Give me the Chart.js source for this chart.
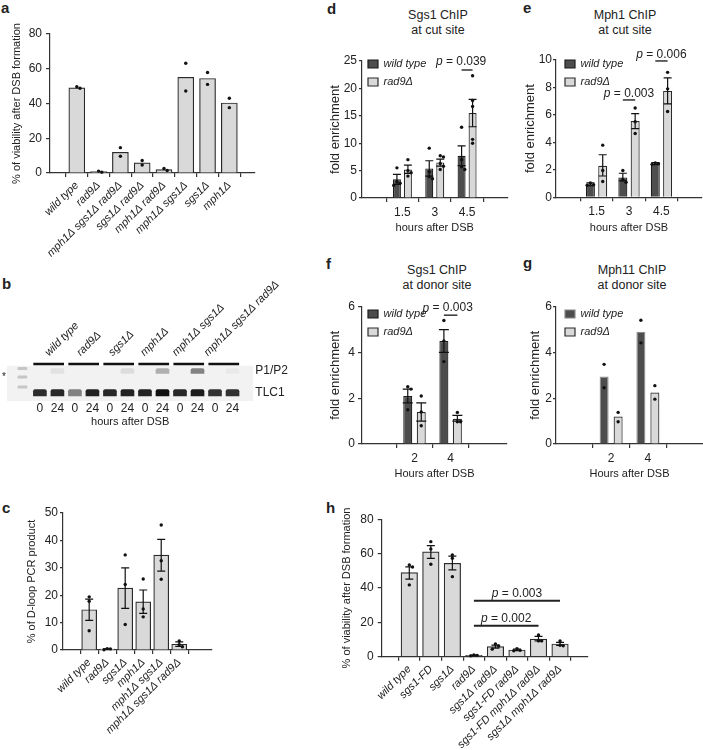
<!DOCTYPE html>
<html><head><meta charset="utf-8">
<script src="https://cdn.jsdelivr.net/npm/chart.js@4.4.1/dist/chart.umd.min.js"></script>
<style>
html,body{margin:0;padding:0;background:#fff;}
body{width:703px;height:750px;position:relative;overflow:hidden;font-family:'Liberation Sans',Arial,Helvetica,sans-serif;color:#222;}
canvas{position:absolute;}
.lt{position:absolute;font-weight:bold;font-size:15px;line-height:15px;}
.ttl{position:absolute;font-size:12.5px;line-height:15px;text-align:center;width:160px;white-space:nowrap;}
</style></head><body>
<div class="lt" style="left:1px;top:0px">a</div>
<div class="lt" style="left:2px;top:276px">b</div>
<div class="lt" style="left:2px;top:500px">c</div>
<div class="lt" style="left:327px;top:1px">d</div>
<div class="lt" style="left:523px;top:0px">e</div>
<div class="lt" style="left:326px;top:256px">f</div>
<div class="lt" style="left:523px;top:255px">g</div>
<div class="lt" style="left:326px;top:500px">h</div>
<div class="ttl" style="left:358px;top:8px">Sgs1 ChIP<br>at cut site</div>
<div class="ttl" style="left:545px;top:8px">Mph1 ChIP<br>at cut site</div>
<div class="ttl" style="left:357px;top:263px">Sgs1 ChIP<br>at donor site</div>
<div class="ttl" style="left:552px;top:263px">Mph11 ChIP<br>at donor site</div>
<canvas id="ca" width="262" height="245" style="left:0;top:20px"></canvas>
<canvas id="cb" width="320" height="150" style="left:0;top:280px"></canvas>
<canvas id="cc" width="240" height="260" style="left:0;top:490px"></canvas>
<canvas id="cd" width="190" height="200" style="left:325px;top:40px"></canvas>
<canvas id="ce" width="188" height="200" style="left:515px;top:40px"></canvas>
<canvas id="cf" width="190" height="205" style="left:325px;top:280px"></canvas>
<canvas id="cg" width="188" height="205" style="left:515px;top:280px"></canvas>
<canvas id="ch" width="270" height="260" style="left:330px;top:490px"></canvas>
<script>
// ---------- DATA ----------
// panel a
const aCats = ['wild type','rad9Δ','mph1Δ sgs1Δ rad9Δ','sgs1Δ rad9Δ','mph1Δ rad9Δ','mph1Δ sgs1Δ','sgs1Δ','mph1Δ'];
const aMeans = [49.0, 0.8, 11.9, 5.8, 2.0, 55.1, 54.4, 40.3];
const aDots = [[48.8,49.6],[0.5,1.1],[14.6,9.6],[7.2,4.6],[1.4,2.6],[63.2,47.2],[57.8,51.0],[43.0,37.6]];
// panel b (gel)
const gelLanes = ['0','24','0','24','0','24','0','24','0','24','0','24'];
const gelGroups = ['wild type','rad9Δ','sgs1Δ','mph1Δ','mph1Δ sgs1Δ','mph1Δ sgs1Δ rad9Δ'];
const tlc1Int = [0.88,0.9,0.5,0.92,0.9,0.92,0.92,1.0,0.9,0.95,0.85,0.86];
const p1p2Int = [0,0.07,0,0,0,0.1,0,0.3,0,0.5,0,0.04];
const markerBands = [32.5, 24, 14];
const bandNames = ['P1/P2','TLC1'];
const bandPos = [30, 8.25];
// panel c
const cCats = ['wild type','rad9Δ','sgs1Δ','mph1Δ','mph1Δ sgs1Δ','mph1Δ sgs1Δ rad9Δ'];
const cMeans = [14.7, 0.3, 22.6, 17.6, 34.6, 2.1];
const cErr = [[10.8,18.6],[0.2,0.4],[15.2,30.0],[13.4,21.9],[28.8,40.4],[1.3,3.0]];
const cDots = [[19.4,17.8,7.0],[0.1,0.4,0.5],[34.7,23.9,9.3],[25.9,15.0,12.1],[45.6,32.6,25.8],[3.3,1.2,1.9]];
// panel d
const dHours = ['1.5','3','4.5'];
const dWT = [3.4, 5.4, 7.7];
const dWTerr = [[2.5,4.3],[4.0,6.8],[5.9,9.5]];
const dWTdots = [[5.5,3.0,2.7,2.3],[9.1,4.8,3.9,3.5],[12.9,7.0,5.7,5.2]];
const dRad = [5.2, 6.5, 15.5];
const dRadErr = [[4.5,6.0],[5.8,7.1],[13.0,18.0]];
const dRadDots = [[7.0,5.0,4.6,4.0],[7.7,7.5,6.3,5.8,5.2],[22.3,17.8,16.7,10.7,10.0]];
// panel e
const eHours = ['1.5','3','4.5'];
const eWT = [0.95, 1.45, 2.45];
const eWTerr = [[0.85,1.05],[1.2,1.75],[2.38,2.52]];
const eWTdots = [[1.05,0.92,0.88],[1.95,1.3,1.1],[2.5,2.45,2.4]];
const eRad = [2.3, 5.55, 7.75];
const eRadErr = [[1.55,3.1],[5.0,6.1],[6.8,8.7]];
const eRadDots = [[3.8,1.95,1.15],[6.5,5.5,4.65],[9.1,7.9,6.25]];
// panel f
const fHours = ['2','4'];
const fWT = [2.1, 4.5];
const fWTerr = [[1.8,2.4],[4.0,5.0]];
const fWTdots = [[2.5,2.4,1.5],[5.4,4.5,3.6]];
const fRad = [1.4, 1.1];
const fRadErr = [[1.0,1.8],[1.0,1.25]];
const fRadDots = [[2.1,1.4,0.8],[1.38,0.97,0.97]];
// panel g
const gHours = ['2','4'];
const gWT = [2.95, 4.9];
const gWTdots = [[3.48,2.46],[5.41,4.42]];
const gRad = [1.2, 2.25];
const gRadDots = [[1.38,0.97],[2.55,1.96]];
// panel h
const hCats = ['wild type','sgs1-FD','sgs1Δ','rad9Δ','sgs1Δ rad9Δ','sgs1-FD rad9Δ','sgs1-FD mph1Δ rad9Δ','sgs1Δ mph1Δ rad9Δ'];
const hMeans = [49.0, 61.0, 54.4, 0.8, 5.9, 3.9, 10.3, 7.4];
const hErr = [[45.2,52.3],[57.3,64.7],[50.5,58.6],[0.6,1.0],[5.0,6.7],[3.5,4.4],[9.2,11.8],[6.6,8.3]];
const hDots = [[53.4,52.2,41.8],[67.0,62.7,53.8],[59.2,57.3,46.6],[0.5,1.0,0.8],[7.4,6.2,4.4],[4.6,3.5,3.7],[12.6,9.2,9.2],[9.2,6.7,6.4]];

// ---------- STYLE / HELPERS ----------
const FONT = "'Liberation Sans', Arial, Helvetica, sans-serif";
Chart.defaults.font.family = FONT;
Chart.defaults.color = '#222';
const LIGHT = '#d9d9d9', DARK = '#4d4d4d', AX = '#333';

function marks(o) {
  return { id: 'marks', afterDatasetsDraw(chart) {
    const ctx = chart.ctx, ys = chart.scales.y;
    ctx.save();
    chart.data.datasets.forEach((ds, di) => {
      const meta = chart.getDatasetMeta(di);
      meta.data.forEach((el, i) => {
        const x = el.x;
        if (ds.err) {
          const y1 = ys.getPixelForValue(ds.err[i][0]), y2 = ys.getPixelForValue(ds.err[i][1]);
          ctx.strokeStyle = '#111'; ctx.lineWidth = 1.2;
          ctx.beginPath();
          ctx.moveTo(x, y1); ctx.lineTo(x, y2);
          ctx.moveTo(x - o.cap, y1); ctx.lineTo(x + o.cap, y1);
          ctx.moveTo(x - o.cap, y2); ctx.lineTo(x + o.cap, y2);
          ctx.stroke();
        }
        if (ds.dots) {
          const pys = ds.dots[i].map(v => ys.getPixelForValue(v)).sort((a, b) => a - b);
          let prev = -1e9, k = 0;
          ctx.fillStyle = '#111';
          pys.forEach(py => {
            if (py - prev < 3.2) k++; else k = 0;
            prev = py;
            const dx = k === 0 ? 0 : (k % 2 ? 1 : -1) * 3.2 * Math.ceil(k / 2);
            ctx.beginPath(); ctx.arc(x + dx, py, o.r, 0, Math.PI * 2); ctx.fill();
          });
        }
      });
    });
    (o.brackets || []).forEach(b => {
      const ea = chart.getDatasetMeta(b.a[0]).data[b.a[1]];
      const eb = chart.getDatasetMeta(b.b[0]).data[b.b[1]];
      const y = ys.getPixelForValue(b.y);
      ctx.strokeStyle = '#222'; ctx.lineWidth = b.lw || 1.4;
      ctx.beginPath(); ctx.moveTo(ea.x, y); ctx.lineTo(eb.x, y); ctx.stroke();
      const fi = 'italic 12px ' + FONT, fn = '12px ' + FONT;
      ctx.font = fi; const w1 = ctx.measureText('p').width;
      const rest = ' = ' + b.text;
      ctx.font = fn; const w2 = ctx.measureText(rest).width;
      const cx = (ea.x + eb.x) / 2 + (b.dx || 0);
      const x0 = cx - (w1 + w2) / 2, ty = y - (b.gap || 7);
      ctx.fillStyle = '#222'; ctx.textBaseline = 'middle'; ctx.textAlign = 'left';
      ctx.font = fi; ctx.fillText('p', x0, ty);
      ctx.font = fn; ctx.fillText(rest, x0 + w1, ty);
    });
    ctx.restore();
  }};
}
// place the in-plot legend at the top-left corner of the chart area
const legendPlace = (dx, dy) => ({ id: 'legendPlace', afterLayout(chart) {
  const l = chart.legend; if (!l) return;
  l.left = chart.chartArea.left + dx; l.top = chart.chartArea.top + dy;
} });

function yAx(o) {
  return {
    type: 'linear', min: 0, max: o.max, position: 'left',
    ticks: { stepSize: o.step, padding: o.pad, font: { size: 12 }, color: '#222' },
    grid: { display: true, drawOnChartArea: false, drawTicks: true, tickLength: o.tl, color: AX, lineWidth: 1.2 },
    border: { display: true, color: AX, width: 1.2 },
    title: { display: true, text: o.title, font: { size: o.tfs || 11 }, color: '#222', padding: { top: o.tpt, bottom: 0 } },
    afterFit(s) { s.width = o.width; }
  };
}
function xAx(o) {
  return {
    type: 'linear', min: o.min, max: o.max, bounds: 'data', position: 'bottom',
    afterBuildTicks(s) { s.ticks = o.labels.map((_, i) => ({ value: i })); },
    ticks: { autoSkip: false, maxRotation: o.rot, minRotation: o.rot, padding: o.pad, color: '#222',
      font: o.rot ? { size: 11, style: 'italic' } : { size: 12 },
      callback: (v, i) => o.labels[i] },
    grid: { display: true, drawOnChartArea: false, drawTicks: true, tickLength: 4, color: AX, lineWidth: 1.2 },
    border: { display: true, color: AX, width: 1.2 },
    title: o.title ? { display: true, text: o.title, font: { size: 11 }, color: '#222', padding: { top: 0, bottom: 1.4 } } : { display: false },
    afterFit(s) { s.height = o.height; }
  };
}
const base = (padding) => ({
  responsive: false, devicePixelRatio: 1, animation: false, events: [],
  layout: { padding },
  plugins: { legend: { display: false }, tooltip: { enabled: false } }
});

function single(id, cats, means, err, dots, o) {
  const opts = base(o.padding);
  opts.scales = {
    x: xAx({ min: o.xmin, max: o.xmax, labels: cats, rot: 45, pad: 2, height: o.xh }),
    y: yAx(o.y)
  };
  return new Chart(document.getElementById(id), {
    type: 'bar',
    data: { datasets: [{ data: means.map((v, i) => ({ x: i, y: v })), backgroundColor: LIGHT, borderColor: '#2a2a2a', borderWidth: 1.2, barThickness: o.bw, err, dots }] },
    options: opts,
    plugins: [marks({ cap: 4, r: 1.7, brackets: o.brackets })]
  });
}

function grouped(id, hours, wt, wtErr, wtDots, rad, radErr, radDots, o) {
  const opts = base(o.padding);
  opts.plugins.legend = { display: true, position: 'chartArea', align: 'start',
    labels: { boxWidth: 10, boxHeight: 8, padding: 7, font: { size: 11, style: 'italic' }, color: '#222' } };
  opts.scales = {
    x: xAx({ min: o.xmin, max: o.xmax, labels: hours, rot: 0, pad: 3, height: o.xh, title: o.xtitle }),
    y: yAx(o.y)
  };
  return new Chart(document.getElementById(id), {
    type: 'bar',
    data: { datasets: [
      { label: 'wild type', data: wt.map((v, i) => ({ x: i, y: v })), backgroundColor: DARK, borderColor: o.wtBorder || '#1a1a1a', borderWidth: 1.2,
        categoryPercentage: o.cp, barPercentage: o.bp, err: wtErr, dots: wtDots },
      { label: 'rad9Δ', data: rad.map((v, i) => ({ x: i, y: v })), backgroundColor: LIGHT, borderColor: '#2a2a2a', borderWidth: 1.2,
        categoryPercentage: o.cp, barPercentage: o.bp, err: radErr, dots: radDots }
    ] },
    options: opts,
    plugins: [marks({ cap: o.cap || 4, r: 1.7, brackets: o.brackets }), legendPlace(o.ldx, o.ldy)]
  });
}

// ---------- PANEL a ----------
single('ca', aCats, aMeans, null, aDots, {
  padding: { top: 14, left: 0, right: 7, bottom: 0 }, xmin: -0.643, xmax: 7.59, xh: 92, bw: 16,
  y: { max: 80, step: 20, width: 50, tl: 4, pad: 4, title: '% of viability after DSB formation', tpt: 10.4 }
});

// ---------- PANEL b (gel) ----------
(function () {
  const shade = v => { const g = Math.round(242 - v * 225); return 'rgb(' + g + ',' + g + ',' + g + ')'; };
  const p1 = p1p2Int.map((v, i) => ({ x: i, v })).filter(d => d.v > 0);
  const opts = base({ top: 1, left: 0, right: 0, bottom: 0 });
  const xmin = -1.293, xmax = 11.60;
  opts.scales = {
    x: { type: 'linear', min: xmin, max: xmax, bounds: 'data', position: 'bottom',
      afterBuildTicks(s) { s.ticks = gelLanes.map((_, i) => ({ value: i })); },
      ticks: { autoSkip: false, maxRotation: 0, minRotation: 0, padding: 0, font: { size: 12 }, color: '#222', callback: (v, i) => gelLanes[i] },
      grid: { display: false, drawTicks: false }, border: { display: false },
      title: { display: true, text: 'hours after DSB', font: { size: 11 }, color: '#222', padding: { top: 0, bottom: 1.4 } },
      afterFit(s) { s.height = 29; } },
    x2: { type: 'linear', min: xmin, max: xmax, bounds: 'data', position: 'top',
      afterBuildTicks(s) { s.ticks = gelGroups.map((_, i) => ({ value: 2 * i + 0.5 })); },
      ticks: { autoSkip: false, maxRotation: 45, minRotation: 45, padding: 2, font: { size: 11, style: 'italic' }, color: '#222', callback: (v, i) => gelGroups[i] },
      grid: { display: false, drawTicks: false }, border: { display: false },
      afterFit(s) { s.height = 80; } },
    y: { type: 'linear', min: 0, max: 40, position: 'left',
      afterBuildTicks(s) { s.ticks = [{ value: markerBands[1] }]; },
      ticks: { padding: 1, font: { size: 10 }, color: '#222', callback: () => '*' },
      grid: { display: false, drawTicks: false }, border: { display: false },
      afterFit(s) { s.width = 7; } },
    yR: { type: 'linear', min: 0, max: 40, position: 'right',
      afterBuildTicks(s) { s.ticks = bandPos.map(v => ({ value: v })); },
      ticks: { padding: 2, font: { size: 12 }, color: '#222', callback: (v, i) => bandNames[i] },
      grid: { display: false, drawTicks: false }, border: { display: false },
      afterFit(s) { s.width = 66.7; } }
  };
  new Chart(document.getElementById('cb'), {
    type: 'bar',
    data: { datasets: [
      { label: 'gel', data: [{ x: (xmin + xmax) / 2, y: [0, 35] }], backgroundColor: '#f2f2f2', barThickness: 246.3, grouped: false, order: 10 },
      { label: 'marker', data: markerBands.map(p => ({ x: -1, y: [p - 1.1, p + 1.1] })), backgroundColor: '#c6c6c6', barThickness: 9, borderRadius: 1, grouped: false },
      { label: 'TLC1', data: tlc1Int.map((v, i) => ({ x: i, y: [bandPos[1] - 3.25, bandPos[1] + 3.25] })), backgroundColor: tlc1Int.map(shade), barThickness: 13, borderRadius: 2, grouped: false },
      { label: 'P1/P2', data: p1.map(d => ({ x: d.x, y: [bandPos[0] - 2.5, bandPos[0] + 2.5] })), backgroundColor: p1.map(d => shade(d.v)), barThickness: 13, borderRadius: 2, grouped: false },
      { label: 'groups', data: gelGroups.map((g, i) => ({ x: 2 * i + 0.5, y: [36.2, 37.8] })), backgroundColor: '#111', barThickness: 30, grouped: false }
    ] },
    options: opts
  });
})();

// ---------- PANEL c ----------
single('cc', cCats, cMeans, cErr, cDots, {
  padding: { top: 23, left: 0, right: 28, bottom: 0 }, xmin: -0.764, xmax: 6.13, xh: 100, bw: 15,
  y: { max: 50, step: 10, width: 63, tl: 3, pad: 2, title: '% of D-loop PCR product', tpt: 25.4 }
});

// ---------- PANEL d ----------
grouped('cd', dHours, dWT, dWTerr, dWTdots, dRad, dRadErr, dRadDots, {
  padding: { top: 21, left: 0, right: 7.5, bottom: 4 }, xmin: -0.5, xmax: 2.5, xh: 38, xtitle: 'hours after DSB',
  cp: 0.68, bp: 0.727, ldx: -1, ldy: -9.5,
  y: { max: 25, step: 5, width: 37, tl: 3, pad: 2, title: 'fold enrichment', tfs: 13, tpt: 2.2 },
  brackets: [{ a: [0, 2], b: [1, 2], y: 23.36, text: '0.039', dx: -6, gap: 8 }]
});

// ---------- PANEL e ----------
grouped('ce', eHours, eWT, eWTerr, eWTdots, eRad, eRadErr, eRadDots, {
  padding: { top: 20, left: 0, right: 1, bottom: 4 }, xmin: -0.5, xmax: 2.5, xh: 38.7, xtitle: 'hours after DSB',
  cp: 0.76, bp: 0.73, ldx: 2, ldy: -8.5,
  y: { max: 10, step: 2, width: 41, tl: 3, pad: 1, title: 'fold enrichment', tfs: 13, tpt: 7.2 },
  brackets: [{ a: [0, 1], b: [1, 1], y: 7.09, text: '0.003', gap: 6 }, { a: [0, 2], b: [1, 2], y: 9.93, text: '0.006', gap: 6 }]
});

// ---------- PANEL f ----------
grouped('cf', fHours, fWT, fWTerr, fWTdots, fRad, fRadErr, fRadDots, {
  padding: { top: 26.7, left: 0, right: 8, bottom: 3 }, xmin: -0.45, xmax: 1.557, xh: 38, xtitle: 'Hours after DSB',
  cp: 0.747, bp: 0.667, cap: 5, ldx: -1, ldy: -5.2,
  y: { max: 6, step: 2, width: 37, tl: 4, pad: 3, title: 'fold enrichment', tfs: 13, tpt: 2.2 },
  brackets: [{ a: [0, 1], b: [1, 1], y: 5.63, text: '0.003', dx: -3, gap: 7 }]
});

// ---------- PANEL g ----------
grouped('cg', gHours, gWT, null, gWTdots, gRad, null, gRadDots, {
  padding: { top: 26.7, left: 0, right: 0, bottom: 3 }, xmin: -0.5, xmax: 1.5, xh: 38, xtitle: 'Hours after DSB',
  cp: 0.762, bp: 0.643, ldx: 2, ldy: -5.2, wtBorder: '#8a8a8a',
  y: { max: 6, step: 2, width: 41, tl: 3, pad: 1, title: 'fold enrichment', tfs: 13, tpt: 12.2 }
});

// ---------- PANEL h ----------
single('ch', hCats, hMeans, hErr, hDots, {
  padding: { top: 29.3, left: 0, right: 12, bottom: 0 }, xmin: -0.683, xmax: 7.70, xh: 93.3, bw: 16.5,
  y: { max: 80, step: 20, width: 51.7, tl: 4, pad: 4, title: '% of viability after DSB formation', tpt: 10.4 },
  brackets: [{ a: [0, 3], b: [0, 7], y: 32.6, text: '0.003', lw: 2, gap: 7.4 }, { a: [0, 3], b: [0, 6], y: 18.05, text: '0.002', lw: 2, gap: 7.4 }]
});
</script>
</body></html>
